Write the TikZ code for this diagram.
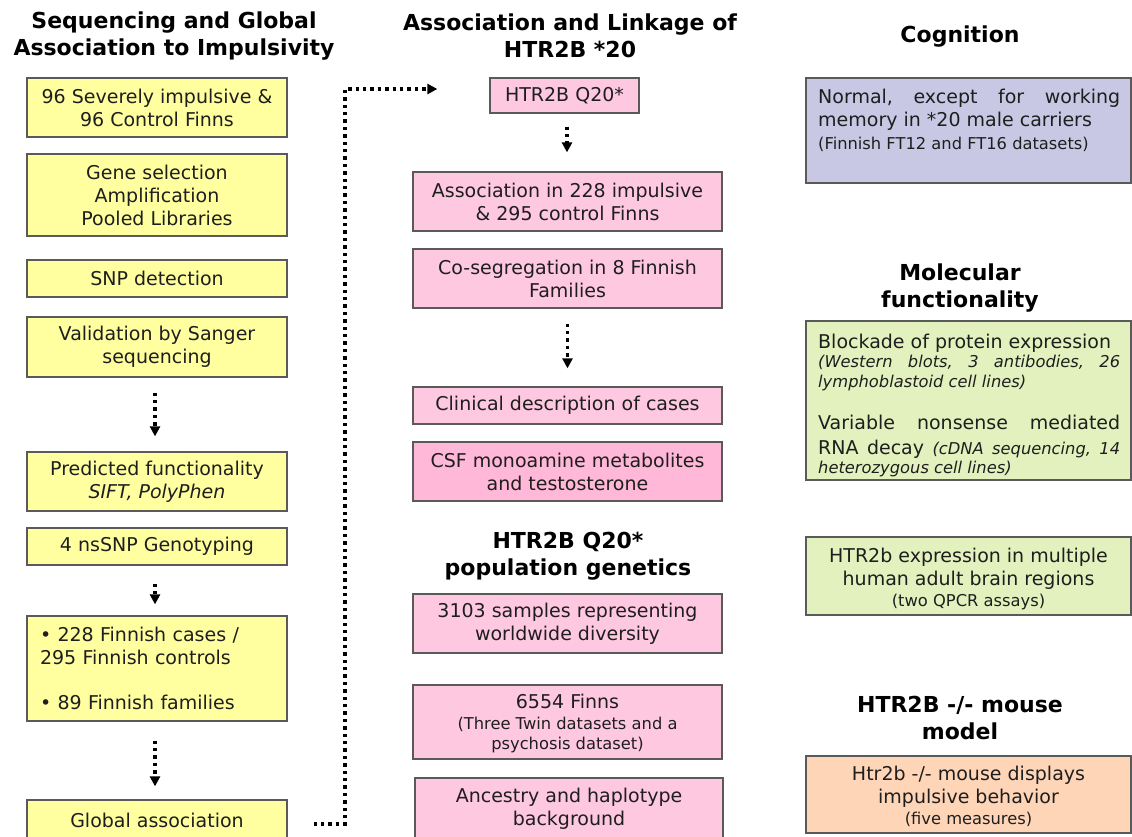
\documentclass[tikz,border=0pt]{standalone}
\usepackage{fontspec}
\setmainfont{DejaVu Sans}
\usetikzlibrary{arrows.meta,calc}
\definecolor{cyel}{RGB}{255,255,160}
\definecolor{cpink}{RGB}{255,200,225}
\definecolor{cpinkb}{RGB}{255,184,215}
\definecolor{cpurple}{RGB}{200,200,228}
\definecolor{cgreen}{RGB}{227,241,190}
\definecolor{corange}{RGB}{255,213,184}
\definecolor{cborder}{RGB}{90,90,90}
\definecolor{ctext}{RGB}{30,30,30}
\newcommand\fsmain{\fontsize{19}{23}\selectfont}
\newcommand\fssmall{\fontsize{16.3}{19}\selectfont}
\newcommand\fstitle{\fontsize{22}{27}\selectfont\bfseries}
\newcommand\pushdown[1]{\rule{0pt}{#1}}
\tikzset{
  box/.style={draw=cborder, line width=1.3pt, inner sep=0pt, align=center, font=\fsmain, text=ctext},
  ybox/.style={box, fill=cyel, minimum width=260pt},
  pbox/.style={box, fill=cpink, minimum width=309pt},
  rbox/.style={box, minimum width=325pt},
  title/.style={font=\fstitle, align=center, text=black, inner sep=0pt},
  rtext/.style={anchor=north west, font=\fsmain, align=left, inner sep=0pt, text=ctext},
  arr/.style={line width=3.4pt, dash pattern=on 3.4pt off 4pt, -{Triangle[width=10pt,length=10pt]}},
}
\begin{document}
\begin{tikzpicture}[x=1pt,y=-1pt]
\useasboundingbox (0,0) rectangle (1132,836);
\fill[white] (0,0) rectangle (1132,836);

% titles
\node[title] (T1) at (174,36) {Sequencing and Global\\Association to Impulsivity};
\node[title] (T2) at (570,36) {Association and Linkage of\\HTR2B *20};
\node[title] (T3) at (960,37) {Cognition};
\node[title] (T4) at (568,556) {HTR2B Q20*\\population genetics};
\node[title] (T5) at (960,288.5) {Molecular\\functionality};
\node[title] (T6) at (960,717.5) {HTR2B -/- mouse\\model};

% left column
\node[ybox, minimum height=59pt] (L1) at (157,107.5) {96 Severely impulsive \&\\96 Control Finns};
\node[ybox, minimum height=82pt] (L2) at (157,195) {Gene selection\\Amplification\\Pooled Libraries};
\node[ybox, minimum height=37pt] (L3) at (157,278.5) {SNP detection};
\node[ybox, minimum height=60pt] (L4) at (157,347) {Validation by Sanger\\sequencing};
\node[ybox, minimum height=59pt] (L5) at (157,481.5) {Predicted functionality\\\textit{SIFT, PolyPhen}};
\node[ybox, minimum height=37pt] (L6) at (157,546.5) {4 nsSNP Genotyping};
\node[ybox, minimum height=105pt, align=left, text width=234pt] (L7) at (157,668.5) {• 228 Finnish cases /\\295 Finnish controls\\[22pt]• 89 Finnish families};
\node[ybox, minimum height=40pt] (L8) at (157,820) {Global association};

% middle column
\node[pbox, minimum width=149pt, minimum height=35pt] (M1) at (564.5,95.5) {HTR2B Q20*};
\node[pbox, minimum height=59pt] (M2) at (567.5,201.5) {Association in 228 impulsive\\\& 295 control Finns};
\node[pbox, minimum height=59pt] (M3) at (567.5,278.5) {Co-segregation in 8 Finnish\\Families};
\node[pbox, minimum height=37pt] (M4) at (567.5,405.5) {Clinical description of cases};
\node[pbox, fill=cpinkb, minimum height=59pt] (M5) at (567.5,471.5) {CSF monoamine metabolites\\and testosterone};
\node[pbox, minimum height=59pt] (M6) at (567.5,623.5) {3103 samples representing\\worldwide diversity};
\node[pbox, minimum height=74pt] (M7) at (567.5,722) {\pushdown{18pt}6554 Finns\\[-2pt]{\fssmall (Three Twin datasets and a}\\[-3pt]{\fssmall psychosis dataset)}};
\node[pbox, minimum width=308pt, minimum height=62pt] (M8) at (569,809) {Ancestry and haplotype\\background};

% right column
\node[rbox, fill=cpurple, minimum height=105pt] (R1) at (968.5,130.5) {};
\node[rtext] (R1t) at (818,89) {\hbox to 302pt{Normal,\hfill except\hfill for\hfill working}\\memory in *20 male carriers\\{\fssmall (Finnish FT12 and FT16 datasets)}};
\node[rbox, fill=cgreen, minimum height=159pt] (R2) at (968.5,400.5) {};
\node[rtext] (R2t) at (818,334) {Blockade of protein expression\\[-4pt]
{\fssmall\itshape\hbox to 302pt{(Western\hfill blots,\hfill 3\hfill antibodies,\hfill 26}}\\[-3pt]
{\fssmall\itshape lymphoblastoid cell lines)}\\[19pt]
\hbox to 302pt{Variable\hfill nonsense\hfill mediated}\\[2pt]
\hbox to 302pt{RNA\hfill decay\hfill {\fssmall\itshape (cDNA\hfill sequencing,\hfill 14}}\\[-4pt]
{\fssmall\itshape heterozygous cell lines)}};
\node[rbox, fill=cgreen, minimum height=78pt] (R3) at (968.5,576) {\pushdown{21pt}HTR2b expression in multiple\\human adult brain regions\\[-2pt]{\fssmall (two QPCR assays)}};
\node[rbox, fill=corange, minimum height=77pt] (R4) at (968.5,794.5) {\pushdown{19pt}Htr2b -/- mouse displays\\impulsive behavior\\[-2pt]{\fssmall (five measures)}};

% arrows
\draw[arr, shorten <=15pt, shorten >=15pt] ($(L4.south)+(-2,0)$) -- ($(L5.north)+(-2,0)$);
\draw[arr, shorten <=18pt, shorten >=11pt] ($(L6.south)+(-2,0)$) -- ($(L7.north)+(-2,0)$);
\draw[arr, shorten <=19pt, shorten >=13pt] ($(L7.south)+(-2,0)$) -- ($(L8.north)+(-2,0)$);
\draw[arr, shorten <=13pt, shorten >=19pt] ($(M1.south)+(2.5,0)$) -- ($(M2.north)+(-0.5,0)$);
\draw[arr, shorten <=15pt, shorten >=18pt] (M3.south) -- (M4.north);

\coordinate (gs) at ($(L8.east)+(26,4)$);
\coordinate (gc) at (345,89);
\coordinate (ge) at ($(M1.west)+(-52,-6.5)$);
\draw[arr] (gs) -| (gc) -- (ge);
\end{tikzpicture}
\end{document}
